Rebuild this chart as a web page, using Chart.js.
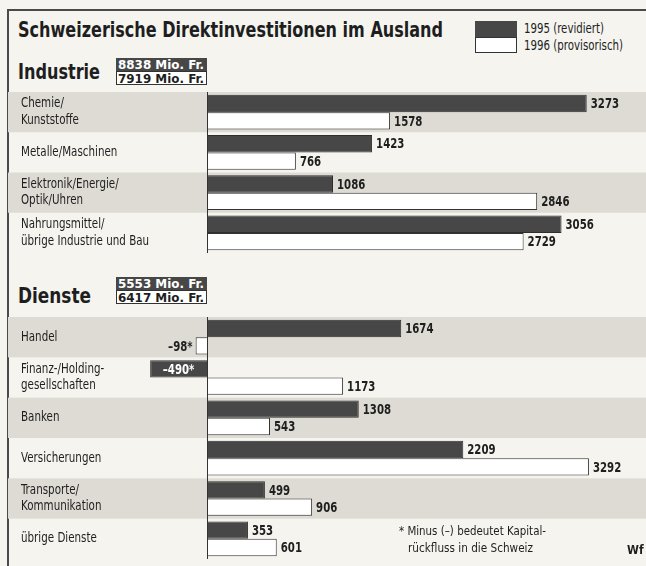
<!DOCTYPE html>
<html>
<head>
<meta charset="utf-8">
<script src="https://cdn.jsdelivr.net/npm/chart.js@4"></script>
<style>
  body { margin: 0; background: #f5f4ef; }
  #wrap { position: relative; width: 646px; height: 566px; overflow: hidden; background: #f5f4ef;
          font-family: "DejaVu Sans Condensed", "DejaVu Sans", sans-serif; color: #1e1e1e; }
  #frame { position: absolute; left: 7px; top: 9px; width: 660px; height: 580px;
           border-left: 2px solid #4a4a4a; border-top: 2px solid #4a4a4a; }
  .abs { position: absolute; white-space: nowrap; transform-origin: 0 0; }
  #title { left: 18px; top: 19px; font-size: 22px; line-height: 22px; font-weight: bold; }
  .sect { left: 18px; font-size: 22px; line-height: 22px; font-weight: bold; }
  .box { left: 116px; width: 91px; }
  .box.dark { height: 13px; background: #474747; }
  .box.light { height: 14px; background: #fff; border: 1px solid #333; box-sizing: border-box; }
  .boxtxt { left: 118px; font-size: 13px; line-height: 13px; font-weight: bold; }
  #legbox1 { left: 475px; top: 21px; width: 42px; height: 16px; background: #474747; }
  #legbox2 { left: 475px; top: 37px; width: 42px; height: 16px; background: #fff; border: 1px solid #333; box-sizing: border-box; }
  .leg { left: 524px; font-size: 14px; line-height: 14px; }
  .note { font-size: 13px; line-height: 13px; }
  canvas { position: absolute; left: 0; }
</style>
</head>
<body>
<div id="wrap">
  <div id="frame"></div>
  <div class="abs" id="title" data-w="425">Schweizerische Direktinvestitionen im Ausland</div>
  <div class="abs" id="legbox1"></div>
  <div class="abs" id="legbox2"></div>
  <div class="abs leg" style="top:21px" data-w="80">1995 (revidiert)</div>
  <div class="abs leg" style="top:38px" data-w="99">1996 (provisorisch)</div>

  <div class="abs sect" style="top:61px" data-w="82">Industrie</div>
  <div class="abs box dark" style="top:58px"></div>
  <div class="abs box light" style="top:71px"></div>
  <div class="abs boxtxt" style="top:58px; color:#fff" data-w="86">8838 Mio. Fr.</div>
  <div class="abs boxtxt" style="top:72px" data-w="86">7919 Mio. Fr.</div>

  <div class="abs sect" style="top:285px" data-w="73">Dienste</div>
  <div class="abs box dark" style="top:277px"></div>
  <div class="abs box light" style="top:290px"></div>
  <div class="abs boxtxt" style="top:277px; color:#fff" data-w="86">5553 Mio. Fr.</div>
  <div class="abs boxtxt" style="top:291px" data-w="86">6417 Mio. Fr.</div>

  <canvas id="chartIndustrie" width="646" height="161" style="top:92px"></canvas>
  <canvas id="chartDienste" width="646" height="242" style="top:317px"></canvas>

  <div class="abs note" style="left:399px; top:524px" data-w="147">* Minus (–) bedeutet Kapital-</div>
  <div class="abs note" style="left:408px; top:541px" data-w="125">rückfluss in die Schweiz</div>
  <div class="abs" style="left:627px; top:543px; font-size:12px; font-weight:bold">Wf</div>
</div>

<script>
// Categories
const industrieLabels = [
  ["Chemie/", "Kunststoffe"],
  "Metalle/Maschinen",
  ["Elektronik/Energie/", "Optik/Uhren"],
  ["Nahrungsmittel/", "übrige Industrie und Bau"],
];
const diensteLabels = [
  "Handel",
  ["Finanz-/Holding-", "gesellschaften"],
  "Banken",
  "Versicherungen",
  ["Transporte/", "Kommunikation"],
  "übrige Dienste",
];

// Values in Mio. Fr.
const industrie1995 = [3273, 1423, 1086, 3056];
const industrie1996 = [1578, 766, 2846, 2729];
const dienste1995 = [1674, -490, 1308, 2209, 499, 353];
const dienste1996 = [-98, 1173, 543, 3292, 906, 601];

const seriesNames = ["1995 (revidiert)", "1996 (provisorisch)"];

const fontFamily = '"DejaVu Sans Condensed", "DejaVu Sans", sans-serif';
const darkColor = "#474747";
const bandColor = "#dddbd4";

// squeeze text horizontally (the original uses a condensed face)
function squeezeText(ctx, text, x, y, sx) {
  ctx.save();
  ctx.translate(x, y);
  ctx.scale(sx, 1);
  ctx.fillText(text, 0, 0);
  ctx.restore();
}

// Alternating grey bands, category labels and the zero line
const bandsPlugin = {
  id: "bands",
  beforeDatasetsDraw(chart) {
    const { ctx, scales: { y } } = chart;
    const step = y.getPixelForValue(1) - y.getPixelForValue(0);
    ctx.save();
    chart.data.labels.forEach((lab, i) => {
      const cy = y.getPixelForValue(i);
      if (i % 2 === 0) {
        ctx.fillStyle = bandColor;
        ctx.fillRect(8, cy - step / 2, chart.width - 8, step);
      }
      const lines = Array.isArray(lab) ? lab : [lab];
      ctx.fillStyle = "#1e1e1e";
      ctx.font = "13.5px " + fontFamily;
      ctx.textBaseline = "middle";
      ctx.textAlign = "left";
      lines.forEach((ln, k) => {
        squeezeText(ctx, ln, 21, cy + (k - (lines.length - 1) / 2) * 16.5, 0.85);
      });
    });
    ctx.restore();
  },
  afterDatasetsDraw(chart) {
    const { ctx, chartArea, scales: { x } } = chart;
    const x0 = Math.round(x.getPixelForValue(0)) + 0.5;
    ctx.save();
    ctx.strokeStyle = "#333";
    ctx.lineWidth = 1;
    ctx.beginPath();
    ctx.moveTo(x0, chartArea.top);
    ctx.lineTo(x0, chartArea.bottom);
    ctx.stroke();
    ctx.restore();
  },
};

// Value labels at the bar ends
const valueLabels = {
  id: "valueLabels",
  afterDatasetsDraw(chart) {
    const { ctx } = chart;
    const sx = 0.78;
    ctx.save();
    ctx.font = "bold 14.5px " + fontFamily;
    ctx.textBaseline = "middle";
    chart.data.datasets.forEach((ds, di) => {
      chart.getDatasetMeta(di).data.forEach((bar, i) => {
        const v = ds.data[i];
        if (v >= 0) {
          ctx.fillStyle = "#1e1e1e";
          ctx.textAlign = "left";
          squeezeText(ctx, String(v), bar.x + 4, bar.y + 1, sx);
        } else {
          const txt = "–" + Math.abs(v) + "*";
          const w = ctx.measureText(txt).width * sx;
          if (di === 0) {
            ctx.fillStyle = "#fff";
            ctx.textAlign = "left";
            squeezeText(ctx, txt, (bar.x + bar.base) / 2 - w / 2, bar.y + 1, sx);
          } else {
            ctx.fillStyle = "#1e1e1e";
            ctx.textAlign = "left";
            squeezeText(ctx, txt, bar.x - 3 - w, bar.y + 1, sx);
          }
        }
      });
    });
    ctx.restore();
  },
};

function makeChart(id, labels, data95, data96) {
  return new Chart(document.getElementById(id), {
    type: "bar",
    data: {
      labels: labels,
      datasets: [
        { label: seriesNames[0], data: data95, backgroundColor: darkColor, borderColor: "#2e2e2e", borderWidth: 1 },
        { label: seriesNames[1], data: data96, backgroundColor: "#ffffff", borderColor: "#333", borderWidth: 1 },
      ],
    },
    options: {
      indexAxis: "y",
      responsive: false,
      animation: false,
      devicePixelRatio: 1,
      categoryPercentage: 0.86,
      barPercentage: 1.0,
      layout: { padding: { left: 20, right: 0, top: 0, bottom: 0 } },
      plugins: { legend: { display: false }, tooltip: { enabled: false } },
      scales: {
        x: { display: false, min: -1612, max: 3784 },
        y: { display: false },
      },
    },
    plugins: [bandsPlugin, valueLabels],
  });
}

makeChart("chartIndustrie", industrieLabels, industrie1995, industrie1996);
makeChart("chartDienste", diensteLabels, dienste1995, dienste1996);

// fit the html texts to the widths measured on the original
document.querySelectorAll("[data-w]").forEach((el) => {
  const w = el.getBoundingClientRect().width;
  el.style.transform = "scaleX(" + (el.dataset.w / w) + ")";
});
</script>
</body>
</html>
